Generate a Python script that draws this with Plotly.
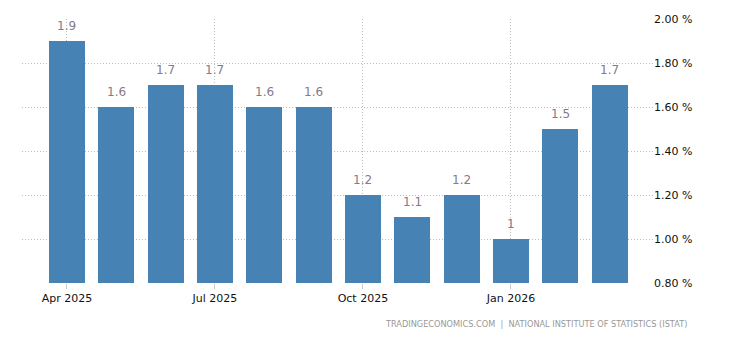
import plotly.graph_objects as go

months = ["Apr 2025", "May 2025", "Jun 2025", "Jul 2025", "Aug 2025", "Sep 2025",
          "Oct 2025", "Nov 2025", "Dec 2025", "Jan 2026", "Feb 2026", "Mar 2026"]
values = [1.9, 1.6, 1.7, 1.7, 1.6, 1.6, 1.2, 1.1, 1.2, 1.0, 1.5, 1.7]
labels = ["1.9", "1.6", "1.7", "1.7", "1.6", "1.6", "1.2", "1.1", "1.2", "1", "1.5", "1.7"]
tick_idx = [0, 3, 6, 9]
tick_text = ["Apr 2025", "Jul 2025", "Oct 2025", "Jan 2026"]
y_ticks = [0.8, 1.0, 1.2, 1.4, 1.6, 1.8, 2.0]
y_tick_text = ["0.80 %", "1.00 %", "1.20 %", "1.40 %", "1.60 %", "1.80 %", "2.00 %"]

xs = list(range(len(months)))
font = "DejaVu Sans"

fig = go.Figure()
fig.add_trace(go.Bar(x=xs, y=values, width=0.73, marker_color="#4682B4",
                     marker_line_width=0, hovertext=months))

for x, v, t in zip(xs, values, labels):
    fig.add_annotation(x=x, y=v, text=t, showarrow=False, yanchor="bottom",
                       yshift=6, font=dict(family=font, size=12, color="#857a8a"))

fig.add_annotation(xref="paper", yref="paper", x=1.057, y=-0.13, xanchor="right",
                   yanchor="top", showarrow=False,
                   text="TRADINGECONOMICS.COM  |  NATIONAL INSTITUTE OF STATISTICS (ISTAT)",
                   font=dict(family=font, size=8.2, color="#999999"))

fig.update_layout(
    width=730, height=340,
    margin=dict(l=22, r=77, t=19, b=57),
    plot_bgcolor="white", paper_bgcolor="white",
    showlegend=False, bargap=0,
    xaxis=dict(range=[-0.91, 11.88], tickmode="array", tickvals=tick_idx, ticktext=tick_text,
               showgrid=True, gridcolor="#bdbdbd", griddash="1px,2px", gridwidth=1,
               ticks="outside", ticklen=5, tickcolor="#c8c8c8",
               tickfont=dict(family=font, size=11, color="#111111"),
               zeroline=False, showline=False),
    yaxis=dict(range=[0.8, 2.0], side="right", tickmode="array", tickvals=y_ticks,
               ticktext=y_tick_text, showgrid=True, gridcolor="#bdbdbd", griddash="1px,2px",
               gridwidth=1, zeroline=False, showline=False,
               tickfont=dict(family=font, size=11, color="#111111")),
)

fig.write_html("out.html")
